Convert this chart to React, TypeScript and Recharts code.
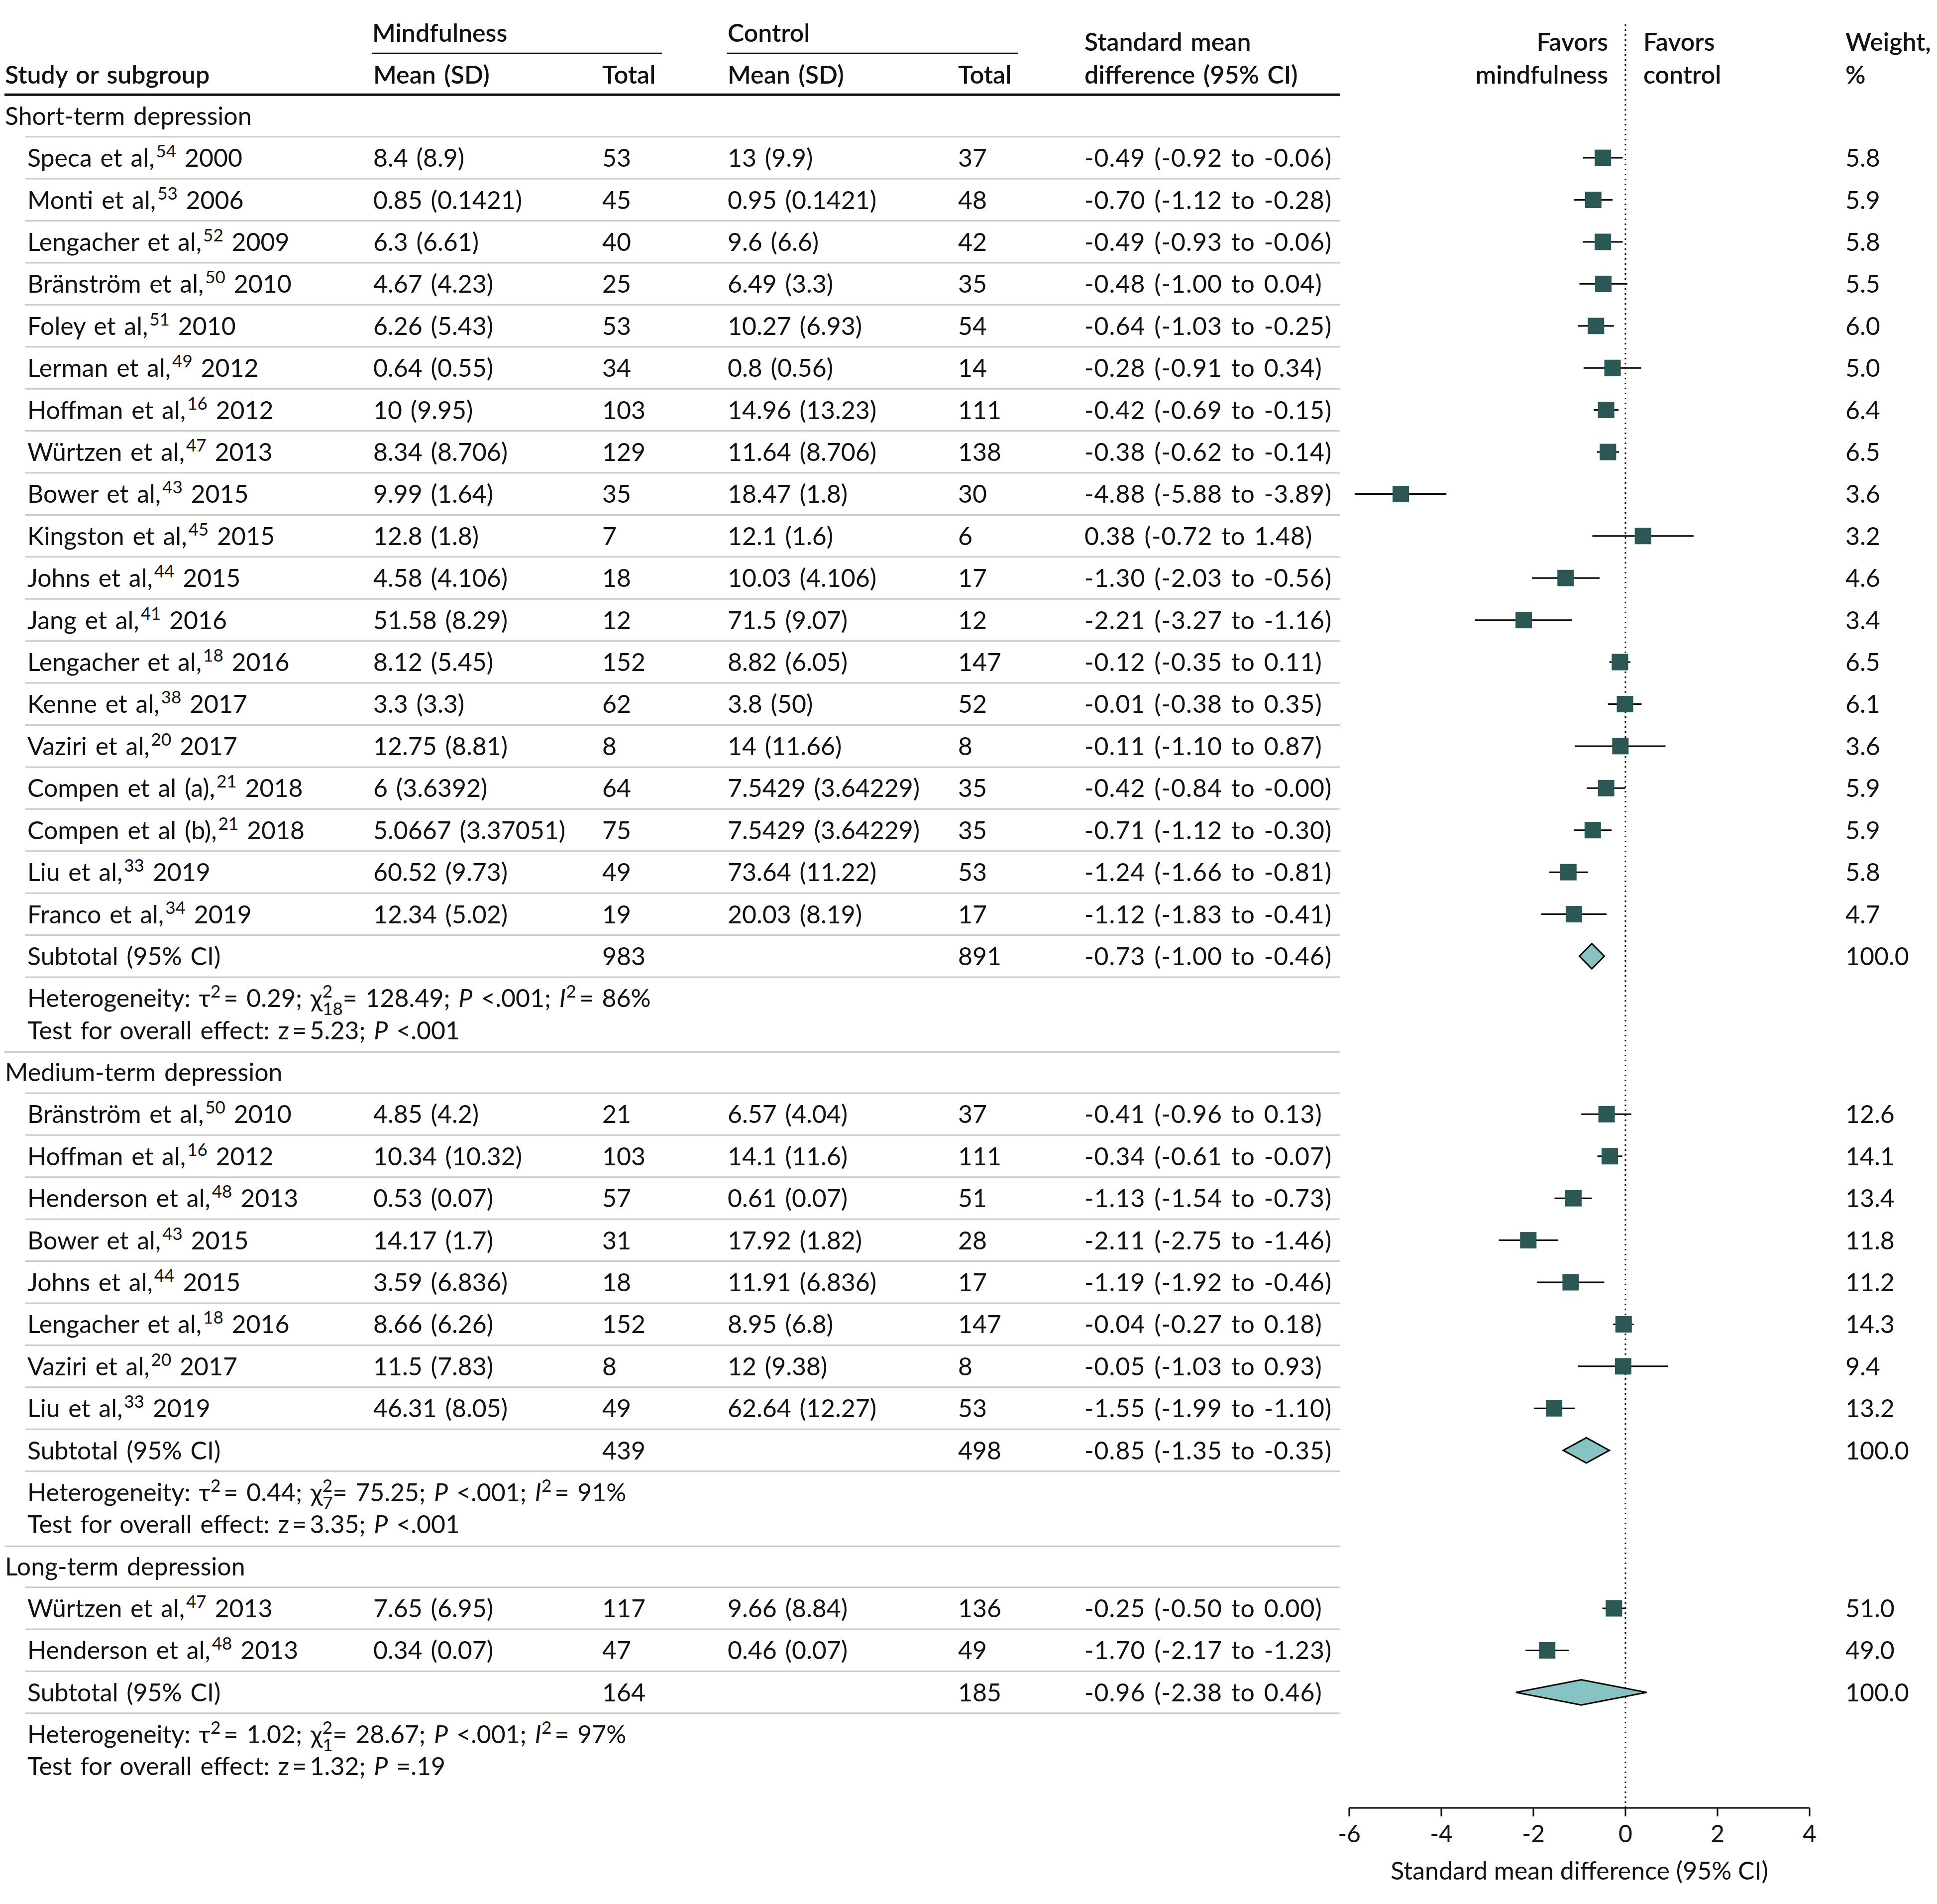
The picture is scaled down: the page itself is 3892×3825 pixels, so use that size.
import React from "react";
import { ScatterChart, Scatter, XAxis, YAxis, ReferenceLine, ErrorBar } from "recharts";

// Short-term depression
const shortNames = ["Speca et al", "Monti et al", "Lengacher et al", "Bränström et al", "Foley et al", "Lerman et al", "Hoffman et al", "Würtzen et al", "Bower et al", "Kingston et al", "Johns et al", "Jang et al", "Lengacher et al", "Kenne et al", "Vaziri et al", "Compen et al (a)", "Compen et al (b)", "Liu et al", "Franco et al"];
const shortRefs = [54, 53, 52, 50, 51, 49, 16, 47, 43, 45, 44, 41, 18, 38, 20, 21, 21, 33, 34];
const shortYears = [2000, 2006, 2009, 2010, 2010, 2012, 2012, 2013, 2015, 2015, 2015, 2016, 2016, 2017, 2017, 2018, 2018, 2019, 2019];
const shortMindMean = [8.4, 0.85, 6.3, 4.67, 6.26, 0.64, 10, 8.34, 9.99, 12.8, 4.58, 51.58, 8.12, 3.3, 12.75, 6, 5.0667, 60.52, 12.34];
const shortMindSd = [8.9, 0.1421, 6.61, 4.23, 5.43, 0.55, 9.95, 8.706, 1.64, 1.8, 4.106, 8.29, 5.45, 3.3, 8.81, 3.6392, 3.37051, 9.73, 5.02];
const shortMindN = [53, 45, 40, 25, 53, 34, 103, 129, 35, 7, 18, 12, 152, 62, 8, 64, 75, 49, 19];
const shortCtrlMean = [13, 0.95, 9.6, 6.49, 10.27, 0.8, 14.96, 11.64, 18.47, 12.1, 10.03, 71.5, 8.82, 3.8, 14, 7.5429, 7.5429, 73.64, 20.03];
const shortCtrlSd = [9.9, 0.1421, 6.6, 3.3, 6.93, 0.56, 13.23, 8.706, 1.8, 1.6, 4.106, 9.07, 6.05, 50, 11.66, 3.64229, 3.64229, 11.22, 8.19];
const shortCtrlN = [37, 48, 42, 35, 54, 14, 111, 138, 30, 6, 17, 12, 147, 52, 8, 35, 35, 53, 17];
const shortSmd = [-0.49, -0.7, -0.49, -0.48, -0.64, -0.28, -0.42, -0.38, -4.88, 0.38, -1.3, -2.21, -0.12, -0.01, -0.11, -0.42, -0.71, -1.24, -1.12];
const shortLo = [-0.92, -1.12, -0.93, -1.0, -1.03, -0.91, -0.69, -0.62, -5.88, -0.72, -2.03, -3.27, -0.35, -0.38, -1.1, -0.84, -1.12, -1.66, -1.83];
const shortHi = [-0.06, -0.28, -0.06, 0.04, -0.25, 0.34, -0.15, -0.14, -3.89, 1.48, -0.56, -1.16, 0.11, 0.35, 0.87, -0, -0.3, -0.81, -0.41];
const shortWeight = [5.8, 5.9, 5.8, 5.5, 6.0, 5.0, 6.4, 6.5, 3.6, 3.2, 4.6, 3.4, 6.5, 6.1, 3.6, 5.9, 5.9, 5.8, 4.7];
const shortTotals = [983, 891];
const shortPooled = [-0.73, -1.0, -0.46];
const shortHet = [0.29, 18, 128.49, 86];
const shortTest = [5.23];
const shortP = ["<.001", "<.001"];

// Medium-term depression
const mediumNames = ["Bränström et al", "Hoffman et al", "Henderson et al", "Bower et al", "Johns et al", "Lengacher et al", "Vaziri et al", "Liu et al"];
const mediumRefs = [50, 16, 48, 43, 44, 18, 20, 33];
const mediumYears = [2010, 2012, 2013, 2015, 2015, 2016, 2017, 2019];
const mediumMindMean = [4.85, 10.34, 0.53, 14.17, 3.59, 8.66, 11.5, 46.31];
const mediumMindSd = [4.2, 10.32, 0.07, 1.7, 6.836, 6.26, 7.83, 8.05];
const mediumMindN = [21, 103, 57, 31, 18, 152, 8, 49];
const mediumCtrlMean = [6.57, 14.1, 0.61, 17.92, 11.91, 8.95, 12, 62.64];
const mediumCtrlSd = [4.04, 11.6, 0.07, 1.82, 6.836, 6.8, 9.38, 12.27];
const mediumCtrlN = [37, 111, 51, 28, 17, 147, 8, 53];
const mediumSmd = [-0.41, -0.34, -1.13, -2.11, -1.19, -0.04, -0.05, -1.55];
const mediumLo = [-0.96, -0.61, -1.54, -2.75, -1.92, -0.27, -1.03, -1.99];
const mediumHi = [0.13, -0.07, -0.73, -1.46, -0.46, 0.18, 0.93, -1.1];
const mediumWeight = [12.6, 14.1, 13.4, 11.8, 11.2, 14.3, 9.4, 13.2];
const mediumTotals = [439, 498];
const mediumPooled = [-0.85, -1.35, -0.35];
const mediumHet = [0.44, 7, 75.25, 91];
const mediumTest = [3.35];
const mediumP = ["<.001", "<.001"];

// Long-term depression
const longNames = ["Würtzen et al", "Henderson et al"];
const longRefs = [47, 48];
const longYears = [2013, 2013];
const longMindMean = [7.65, 0.34];
const longMindSd = [6.95, 0.07];
const longMindN = [117, 47];
const longCtrlMean = [9.66, 0.46];
const longCtrlSd = [8.84, 0.07];
const longCtrlN = [136, 49];
const longSmd = [-0.25, -1.7];
const longLo = [-0.5, -2.17];
const longHi = [0.0, -1.23];
const longWeight = [51.0, 49.0];
const longTotals = [164, 185];
const longPooled = [-0.96, -2.38, 0.46];
const longHet = [1.02, 1, 28.67, 97];
const longTest = [1.32];
const longP = ["<.001", "=.19"];

const xTicks = [-6, -4, -2, 0, 2, 4];

const sections = [
  { title: "Short-term depression", names: shortNames, refs: shortRefs, years: shortYears, mm: shortMindMean, msd: shortMindSd, mn: shortMindN, cm: shortCtrlMean, csd: shortCtrlSd, cn: shortCtrlN, smd: shortSmd, lo: shortLo, hi: shortHi, w: shortWeight, totals: shortTotals, pooled: shortPooled, het: shortHet, z: shortTest, p: shortP },
  { title: "Medium-term depression", names: mediumNames, refs: mediumRefs, years: mediumYears, mm: mediumMindMean, msd: mediumMindSd, mn: mediumMindN, cm: mediumCtrlMean, csd: mediumCtrlSd, cn: mediumCtrlN, smd: mediumSmd, lo: mediumLo, hi: mediumHi, w: mediumWeight, totals: mediumTotals, pooled: mediumPooled, het: mediumHet, z: mediumTest, p: mediumP },
  { title: "Long-term depression", names: longNames, refs: longRefs, years: longYears, mm: longMindMean, msd: longMindSd, mn: longMindN, cm: longCtrlMean, csd: longCtrlSd, cn: longCtrlN, smd: longSmd, lo: longLo, hi: longHi, w: longWeight, totals: longTotals, pooled: longPooled, het: longHet, z: longTest, p: longP },
];

const FONT = "Lato";
const FS = 50;
const SUP = 35;
const INK = "#111";
const SQUARE = "#2b5754";
const DIAMOND = "#87c3c2";
const RULE = "#c8cfc0";
const TEST_GAP = 0.76;
const SECTION_GAP = 1.0;
const DIAMOND_H = 0.3;

const f2 = (v: number) => (v < 0 || Object.is(v, -0) ? "-" : "") + Math.abs(v).toFixed(2);
const ci = (e: number, l: number, h: number) => `${f2(e)} (${f2(l)} to ${f2(h)})`;

// build rows
const tableRows: any[] = [];
const studyPoints: any[] = [];
const diamonds: any[][] = [];
let slot = 0;
sections.forEach((s, si) => {
  if (si > 0) slot += SECTION_GAP;
  tableRows.push({ x: 0, y: slot, kind: "section", title: s.title });
  s.names.forEach((n, i) => {
    slot += 1;
    tableRows.push({
      x: 0, y: slot, kind: "study", name: n, ref: s.refs[i], year: s.years[i],
      mind: `${s.mm[i]} (${s.msd[i]})`, mn: s.mn[i], ctrl: `${s.cm[i]} (${s.csd[i]})`, cn: s.cn[i],
      smd: ci(s.smd[i], s.lo[i], s.hi[i]), w: s.w[i].toFixed(1),
    });
    studyPoints.push({ x: s.smd[i], y: slot, err: [s.smd[i] - s.lo[i], s.hi[i] - s.smd[i]] });
  });
  slot += 1;
  const [pe, pl, ph] = s.pooled;
  tableRows.push({ x: 0, y: slot, kind: "subtotal", mn: s.totals[0], cn: s.totals[1], smd: ci(pe, pl, ph), w: "100.0" });
  diamonds.push([
    { x: pl, y: slot },
    { x: pe, y: slot - DIAMOND_H },
    { x: ph, y: slot },
    { x: pe, y: slot + DIAMOND_H },
  ]);
  slot += 1;
  tableRows.push({ x: 0, y: slot, kind: "het", het: s.het, p: s.p[0] });
  slot += TEST_GAP;
  tableRows.push({ x: 0, y: slot, kind: "test", z: s.z[0], p: s.p[1], last: si === sections.length - 1 });
});
const yMax = slot + 0.99;

const txt = (x: number, cy: number, content: any, extra: any = {}) => (
  <text x={x} y={cy + 18} fontFamily={FONT} fontSize={FS} fill={INK} wordSpacing={4} {...extra}>
    {content}
  </text>
);

const rule = (cy: number, x1: number) => (
  <line x1={x1} x2={2693} y1={cy} y2={cy} stroke={RULE} strokeWidth={3} />
);

const smdStyle = { letterSpacing: 1 };

function TableRow(props: any) {
  const { cy, payload: r } = props;
  if (r.kind === "section") {
    return (
      <g>
        {txt(10, cy, r.title)}
        {rule(cy + 42, 51)}
      </g>
    );
  }
  if (r.kind === "study") {
    return (
      <g>
        {txt(55, cy, (
          <>
            {r.name},
            <tspan dx={3} dy={-19} fontSize={SUP}>{r.ref}</tspan>
            <tspan dy={19}> {r.year}</tspan>
          </>
        ))}
        {txt(750, cy, r.mind)}
        {txt(1210, cy, r.mn)}
        {txt(1462, cy, r.ctrl)}
        {txt(1925, cy, r.cn)}
        {txt(2179, cy, r.smd, smdStyle)}
        {txt(3708, cy, r.w)}
        {rule(cy + 42, 51)}
      </g>
    );
  }
  if (r.kind === "subtotal") {
    return (
      <g>
        {txt(55, cy, "Subtotal (95% CI)")}
        {txt(1210, cy, r.mn)}
        {txt(1925, cy, r.cn)}
        {txt(2179, cy, r.smd, smdStyle)}
        {txt(3708, cy, r.w)}
        {rule(cy + 42, 51)}
      </g>
    );
  }
  if (r.kind === "het") {
    const [tau, df, chi, i2] = r.het;
    return txt(55, cy, (
      <>
        {"Heterogeneity: τ"}
        <tspan dy={-19} fontSize={SUP}>2</tspan>
        <tspan dy={19}>{`\u2009= ${tau.toFixed(2)}; χ`}</tspan>
        <tspan dy={-19} fontSize={SUP}>2</tspan>
        <tspan dx={-20} dy={35} fontSize={SUP}>{df}</tspan>
        <tspan dy={-16}>{`= ${chi.toFixed(2)}; `}</tspan>
        <tspan fontStyle="italic">P</tspan>
        <tspan>{` ${r.p}; `}</tspan>
        <tspan fontStyle="italic">I</tspan>
        <tspan dy={-19} fontSize={SUP}>2</tspan>
        <tspan dy={19}>{`\u2009= ${i2}%`}</tspan>
      </>
    ));
  }
  return (
    <g>
      {txt(55, cy, (
        <>
          {`Test for overall effect: z\u2009=\u2009${r.z.toFixed(2)}; `}
          <tspan fontStyle="italic">P</tspan>
          <tspan>{` ${r.p}`}</tspan>
        </>
      ))}
      {r.last ? null : rule(cy + 44, 9)}
    </g>
  );
}

function Header(props: any) {
  const { cx, cy } = props;
  const bold = { fontWeight: 600 };
  return (
    <g>
      {txt(748, cy - 82, "Mindfulness", bold)}
      {txt(1462, cy - 82, "Control", bold)}
      <line x1={747} x2={1330} y1={cy - 41} y2={cy - 41} stroke={INK} strokeWidth={3} />
      <line x1={1461} x2={2045} y1={cy - 41} y2={cy - 41} stroke={INK} strokeWidth={3} />
      {txt(10, cy + 2, "Study or subgroup", bold)}
      {txt(750, cy + 2, "Mean (SD)", bold)}
      {txt(1210, cy + 2, "Total", bold)}
      {txt(1462, cy + 2, "Mean (SD)", bold)}
      {txt(1925, cy + 2, "Total", bold)}
      {txt(2179, cy - 64, "Standard mean", bold)}
      {txt(2179, cy + 2, "difference (95% CI)", bold)}
      {txt(cx - 35, cy - 64, "Favors", { ...bold, textAnchor: "end" })}
      {txt(cx - 35, cy + 2, "mindfulness", { ...bold, textAnchor: "end" })}
      {txt(cx + 36, cy - 64, "Favors", bold)}
      {txt(cx + 36, cy + 2, "control", bold)}
      {txt(3708, cy - 64, "Weight,", bold)}
      {txt(3708, cy + 2, "%", bold)}
      <line x1={9} x2={2693} y1={cy + 42} y2={cy + 42} stroke={INK} strokeWidth={5} />
    </g>
  );
}

const Square = (props: any) => (
  <rect x={props.cx - 16.5} y={props.cy - 16.5} width={33} height={33} fill={SQUARE} />
);

const diamondLine = (props: any) => (
  <polygon
    points={props.points.map((p: any) => `${p.x},${p.y}`).join(" ")}
    fill={DIAMOND}
    stroke="#000"
    strokeWidth={3}
  />
);

export default function App() {
  return (
    <div style={{ position: "absolute", left: 0, top: 0, width: 3892, height: 3825, background: "#fff" }}>
      <ScatterChart
        width={3892}
        height={3825}
        margin={{ top: 47, right: 256, bottom: 103, left: 2711 }}
      >
        <XAxis
          type="number"
          dataKey="x"
          domain={[-6, 4]}
          ticks={xTicks}
          axisLine={{ stroke: "#000", strokeWidth: 3 }}
          tickLine={{ stroke: "#000", strokeWidth: 3 }}
          tickSize={17}
          tickMargin={18}
          height={90}
          tick={{ fontSize: 48, fill: INK, fontFamily: FONT }}
          label={{ value: "Standard mean difference (95% CI)", position: "bottom", offset: 18, fontSize: FS, fill: INK, fontFamily: FONT }}
        />
        <YAxis type="number" dataKey="y" domain={[-2.2, yMax]} reversed hide />
        <ReferenceLine x={0} stroke="#000" strokeWidth={3} strokeDasharray="3 7" />
        <Scatter data={[{ x: 0, y: -1 }]} shape={Header} isAnimationActive={false} legendType="none" />
        <Scatter data={tableRows} shape={TableRow} isAnimationActive={false} legendType="none" />
        {diamonds.map((d, i) => (
          <Scatter
            key={i}
            data={d}
            line={diamondLine}
            shape={() => <g />}
            isAnimationActive={false}
            legendType="none"
          />
        ))}
        <Scatter data={studyPoints} shape={Square} isAnimationActive={false} legendType="none">
          <ErrorBar dataKey="err" direction="x" width={0} stroke="#000" strokeWidth={3} />
        </Scatter>
      </ScatterChart>
    </div>
  );
}
